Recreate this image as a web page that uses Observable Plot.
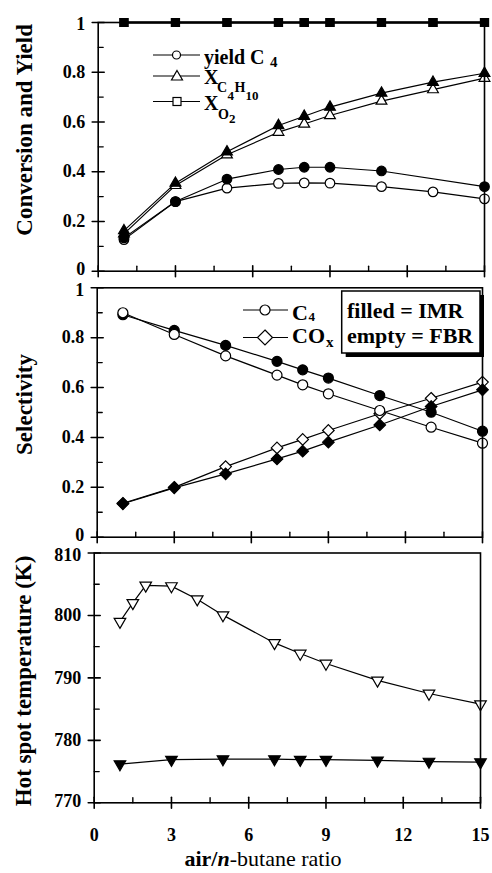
<!DOCTYPE html>
<html><head><meta charset="utf-8">
<script src="https://cdn.jsdelivr.net/npm/d3@7"></script>
<script src="https://cdn.jsdelivr.net/npm/@observablehq/plot@0.6"></script>
<style>
body{margin:0;background:#fff;}
#root{position:relative;width:492px;height:873px;overflow:hidden;font-family:"Liberation Serif","Times New Roman",serif;}
#root svg{position:absolute;left:0;}
</style></head><body><div id="root"></div>
<script>
// ---------- data ----------
const ratioMain = [1, 3, 5, 7, 8, 9, 11, 13, 15];
const yieldFBR = [0.127, 0.28, 0.334, 0.353, 0.355, 0.354, 0.34, 0.319, 0.291];
const ratioYieldIMR = [1, 3, 5, 7, 8, 9, 11, 15];
const yieldIMR = [0.134, 0.28, 0.37, 0.409, 0.418, 0.418, 0.403, 0.34];
const xButaneIMR = [0.163, 0.354, 0.48, 0.586, 0.623, 0.66, 0.716, 0.76, 0.796];
const xButaneFBR = [0.15, 0.345, 0.468, 0.559, 0.592, 0.626, 0.684, 0.73, 0.776];
const xO2IMR = [1, 1, 1, 1, 1, 1, 1, 1, 1];
const xO2FBR = [1, 1, 1, 1, 1, 1, 1, 1, 1];
const selC4FBR = [0.90, 0.813, 0.727, 0.65, 0.611, 0.575, 0.508, 0.441, 0.377];
const selC4IMR = [0.892, 0.829, 0.769, 0.705, 0.671, 0.638, 0.568, 0.501, 0.425];
const selCOxFBR = [0.136, 0.2, 0.283, 0.358, 0.392, 0.428, 0.495, 0.557, 0.622];
const selCOxIMR = [0.134, 0.198, 0.254, 0.314, 0.345, 0.381, 0.45, 0.524, 0.591];
const ratioTempFBR = [1, 1.5, 2, 3, 4, 5, 7, 8, 9, 11, 13, 15];
const tempFBR = [799.0, 802.0, 804.8, 804.7, 802.6, 800.05, 795.6, 793.9, 792.3, 789.6, 787.5, 785.8];
const tempIMR = [776.2, 776.9, 777.0, 777.0, 776.9, 776.9, 776.8, 776.6, 776.5];
const xTicks = [0, 3, 6, 9, 12, 15];
const xMinor = [1.5, 4.5, 7.5, 10.5, 13.5];
const fracTicks = [0, 0.2, 0.4, 0.6, 0.8, 1];
const fracMinor = [0.1, 0.3, 0.5, 0.7, 0.9];
const tempTicks = [770, 780, 790, 800, 810];
const tempMinor = [775, 785, 795, 805];

// ---------- helpers ----------
const rows = (xs, ys) => xs.map((x, i) => ({x, y: ys[i]}));
const tickShape = {draw(ctx, l) { ctx.moveTo(0, 0); ctx.lineTo(0, -l); }};
const triDown = {draw(ctx, size) {
  const y = -Math.sqrt(size / (Math.sqrt(3) * 3));
  ctx.moveTo(0, -2 * y); ctx.lineTo(-Math.sqrt(3) * y, y); ctx.lineTo(Math.sqrt(3) * y, y); ctx.closePath();
}};
const FONT = '"Liberation Serif", "Times New Roman", serif';

function series(xs, ys, symbol, r, filled, sw = 1.2) {
  const d = rows(xs, ys);
  return [
    Plot.line(d, {x: "x", y: "y", stroke: "black", strokeWidth: sw}),
    Plot.dot(d, {x: "x", y: "y", symbol, r, fill: filled ? "black" : "white", stroke: "black", strokeWidth: 1.2})
  ];
}

function frameMarks(yTicks, yMinor, fmt, title, tdx, tdy, showX) {
  const n = yTicks.length;
  const lab = {y: d => d, text: fmt, frameAnchor: "left", dx: -13, textAnchor: "end", fontSize: 18, fontWeight: "bold", fill: "black"};
  const m = [
    Plot.frame({stroke: "black", strokeWidth: 1.6}),
    Plot.vector(yTicks, {y: d => d, frameAnchor: "left", length: 12, rotate: 90, anchor: "middle", shape: tickShape, stroke: "black", strokeWidth: 1.6}),
    Plot.vector(yMinor, {y: d => d, frameAnchor: "left", length: 5, rotate: 90, anchor: "start", shape: tickShape, stroke: "black", strokeWidth: 1.4}),
    Plot.vector(xTicks, {x: d => d, frameAnchor: "bottom", length: 11, rotate: 0, anchor: "middle", shape: tickShape, stroke: "black", strokeWidth: 1.6}),
    Plot.vector(xMinor, {x: d => d, frameAnchor: "bottom", length: 5, rotate: 0, anchor: "start", shape: tickShape, stroke: "black", strokeWidth: 1.4}),
    Plot.text(yTicks, {...lab, filter: (d, i) => i === 0, dy: -2}),
    Plot.text(yTicks, {...lab, filter: (d, i) => i > 0 && i < n - 1}),
    Plot.text(yTicks, {...lab, filter: (d, i) => i === n - 1, dy: 2}),
    Plot.text([title], {text: d => d, frameAnchor: "left", dx: tdx, dy: tdy, rotate: -90, textAnchor: "middle", lineAnchor: "middle", fontSize: 23, fontWeight: "bold", fill: "black"})
  ];
  if (showX) m.push(Plot.text(xTicks, {x: d => d, text: d => String(d), frameAnchor: "bottom", dy: 32, textAnchor: "middle", lineAnchor: "middle", fontSize: 18, fontWeight: "bold", fill: "black"}));
  return m;
}

const root = document.getElementById("root");
function place(svg, top) { svg.style.top = top + "px"; root.appendChild(svg); }
const baseStyle = {background: "transparent", fontFamily: FONT, overflow: "visible"};

// ---------- panel 1 ----------
const p1 = Plot.plot({
  width: 492, height: 285, marginTop: 22, marginBottom: 14.3, marginLeft: 97.7, marginRight: 8,
  x: {domain: [0, 15], axis: null}, y: {domain: [0, 1], axis: null},
  style: baseStyle,
  marks: [
    ...series(ratioMain, xO2FBR, "square", 4.5, false, 2),
    ...series(ratioMain, xO2IMR, "square", 4.5, true, 2),
    ...series(ratioMain, xButaneFBR, "triangle", 4, false),
    ...series(ratioMain, xButaneIMR, "triangle", 4, true),
    ...series(ratioMain, yieldFBR, "circle", 4.8, false),
    ...series(ratioYieldIMR, yieldIMR, "circle", 4.8, true),
    ...frameMarks(fracTicks, fracMinor, d => String(d), "Conversion and Yield", -73.7, -17, false)
  ]
});
place(p1, 0);

// ---------- panel 2 ----------
const p2 = Plot.plot({
  width: 492, height: 270, marginTop: 7.3, marginBottom: 13.3, marginLeft: 96.7, marginRight: 10,
  x: {domain: [0, 15], axis: null}, y: {domain: [0, 1], axis: null},
  style: baseStyle,
  marks: [
    ...series(ratioMain, selCOxFBR, "diamond2", 5.2, false),
    ...series(ratioMain, selCOxIMR, "diamond2", 5.2, true),
    ...series(ratioMain, selC4IMR, "circle", 5, true),
    ...series(ratioMain, selC4FBR, "circle", 5, false),
    ...frameMarks(fracTicks, fracMinor, d => String(d), "Selectivity", -72.7, -8, false)
  ]
});
place(p2, 280);

// ---------- panel 3 ----------
const p3 = Plot.plot({
  width: 492, height: 333, marginTop: 12.5, marginBottom: 70.7, marginLeft: 93.7, marginRight: 12,
  x: {domain: [0, 15], axis: null}, y: {domain: [770, 810], axis: null},
  style: baseStyle,
  marks: [
    ...series(ratioTempFBR, tempFBR, triDown, 4.3, false),
    ...series(ratioMain, tempIMR, triDown, 4.3, true),
    ...frameMarks(tempTicks, tempMinor, d => String(d), "Hot spot temperature (K)", -70.7, 3, true)
  ]
});
place(p3, 540);

// ---------- legends & x title (overlay) ----------
const ns = "http://www.w3.org/2000/svg";
const ov = document.createElementNS(ns, "svg");
ov.setAttribute("width", 492); ov.setAttribute("height", 873);
ov.style.top = "0px"; ov.style.pointerEvents = "none";
ov.setAttribute("font-family", FONT);
ov.innerHTML = `
<g stroke="black" stroke-width="1.2" fill="white">
  <line x1="153" x2="200" y1="55" y2="55"/><circle cx="176.5" cy="55" r="4"/>
  <line x1="153" x2="200" y1="76" y2="76"/><path d="M177,70.5 L182.5,80 L171.5,80 Z"/>
  <line x1="153" x2="200" y1="101.5" y2="101.5"/><rect x="173" y="97.5" width="8" height="8"/>
  <line x1="243" x2="288" y1="310" y2="310"/><circle cx="265" cy="310" r="5"/>
  <line x1="243" x2="288" y1="337.5" y2="337.5"/><path d="M265,330 L272.5,337.5 L265,345 L257.5,337.5 Z"/>
</g>
<g font-weight="bold" fill="black">
  <text x="204" y="63.5" font-size="20">yield C</text><text x="270" y="67" font-size="15">4</text>
  <text x="204" y="83.5" font-size="20">X</text>
  <text x="217" y="92" font-size="14">C</text><text x="227.5" y="100" font-size="13">4</text>
  <text x="234.5" y="92" font-size="14">H</text><text x="245.5" y="100" font-size="13">10</text>
  <text x="204" y="110" font-size="20">X</text>
  <text x="218" y="119" font-size="14">O</text><text x="229" y="123" font-size="13">2</text>
  <text x="292" y="320" font-size="22">C</text><text x="308.5" y="320.5" font-size="13">4</text>
  <text x="292" y="343" font-size="22">CO</text><text x="326" y="347" font-size="15">x</text>
</g>
<rect x="345.7" y="295" width="138.3" height="62" fill="black"/>
<rect x="341.7" y="291" width="138.3" height="62" fill="white" stroke="black" stroke-width="1.5"/>
<g font-weight="bold" font-size="22" fill="black">
  <text x="347" y="318">filled = IMR</text>
  <text x="347" y="343">empty = FBR</text>
</g>
<text x="263" y="866" text-anchor="middle" font-size="22" fill="black"><tspan font-weight="bold">air/</tspan><tspan font-weight="bold" font-style="italic">n</tspan><tspan>-butane ratio</tspan></text>
`;
root.appendChild(ov);
</script>
</body></html>
